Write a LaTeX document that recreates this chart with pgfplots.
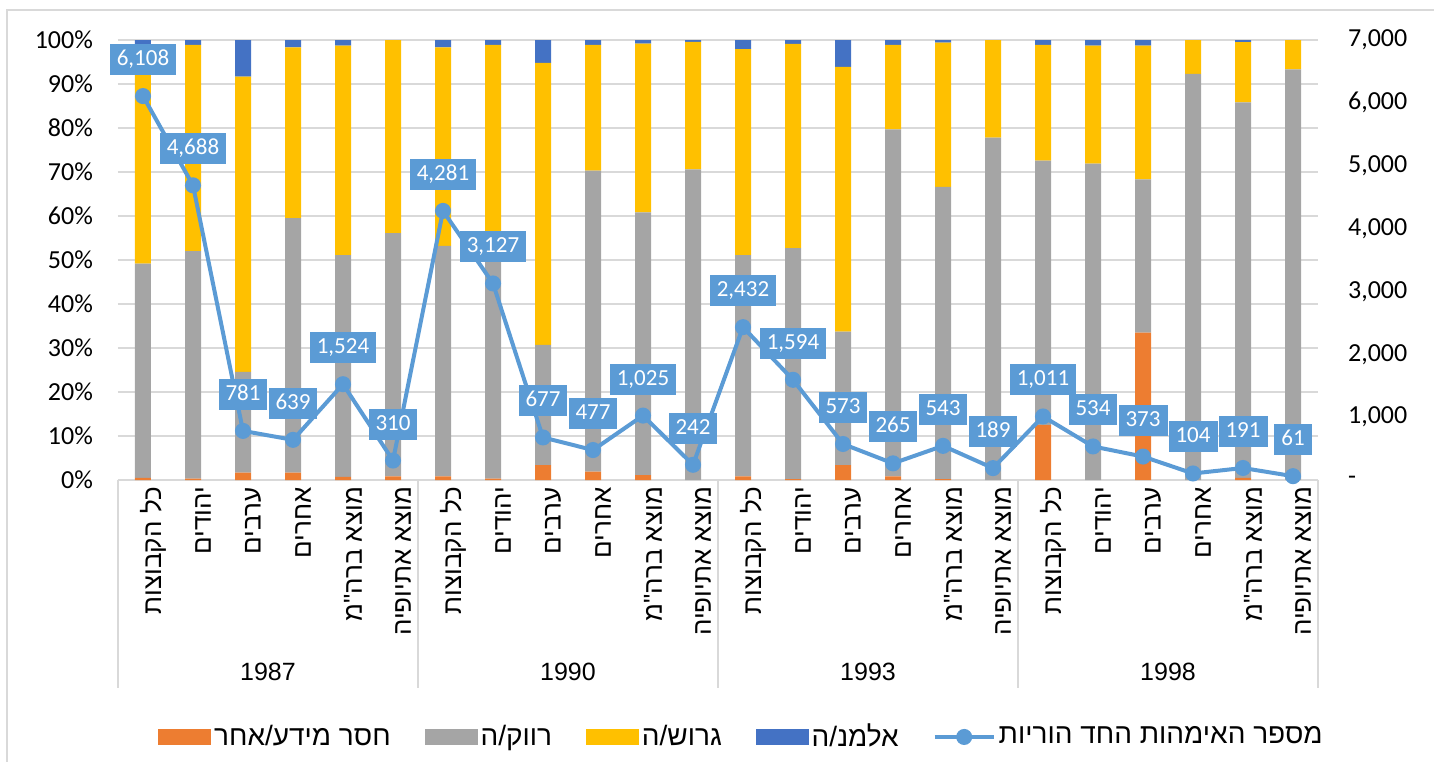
\documentclass[border=0pt]{standalone}
\usepackage{fontspec}
\setmainfont{Liberation Sans}
\newfontfamily\calibri{Carlito}
\newfontfamily\hebfont[Script=Hebrew]{Liberation Sans}
\usepackage{pgfplots}
\pgfplotsset{compat=1.18}
\TeXXeTstate=1
\newcommand\heb[1]{{\hebfont\beginR #1\endR}}
\definecolor{cOrange}{HTML}{ED7D31}
\definecolor{cGray}{HTML}{A5A5A5}
\definecolor{cYellow}{HTML}{FFC000}
\definecolor{cBlue}{HTML}{4472C4}
\definecolor{cLine}{HTML}{5B9BD5}
\definecolor{gridgray}{HTML}{D9D9D9}
\newcommand\La{\heb{כל הקבוצות}}
\newcommand\Lb{\heb{יהודים}}
\newcommand\Lc{\heb{ערבים}}
\newcommand\Ld{\heb{אחרים}}
\newcommand\Le{\heb{מוצא ברה"מ}}
\newcommand\Lf{\heb{מוצא אתיופיה}}

\pgfplotstableread{
x orange gray yellow blue
0  0.5 48.7 48.9 1.9
1  0.3 51.7 46.9 1.1
2  1.7 22.9 67.1 8.3
3  1.7 57.8 38.8 1.7
4  0.7 50.4 47.6 1.3
5  0.8 55.3 43.9 0.0
6  0.8 52.4 45.1 1.7
7  0.3 54.7 43.9 1.1
8  3.4 27.3 64.1 5.2
9  1.9 68.4 28.6 1.1
10 1.1 59.7 38.4 0.8
11 0.0 70.6 29.0 0.4
12 0.8 50.3 46.8 2.1
13 0.2 52.5 46.4 0.9
14 3.4 30.3 60.2 6.1
15 0.8 78.9 19.2 1.1
16 0.2 66.4 32.8 0.6
17 0.0 77.8 22.2 0.0
18 12.5 60.1 26.3 1.1
19 0.0 71.9 26.8 1.3
20 33.5 34.8 30.4 1.3
21 0.0 92.3 7.7 0.0
22 0.5 85.3 13.7 0.5
23 0.0 93.3 6.7 0.0
}\bars

\pgfplotstableread{
x n
0 6108
1 4688
2 781
3 639
4 1524
5 310
6 4281
7 3127
8 677
9 477
10 1025
11 242
12 2432
13 1594
14 573
15 265
16 543
17 189
18 1011
19 534
20 373
21 104
22 191
23 61
}\mothers

\begin{document}
\begin{tikzpicture}
\path[use as bounding box] (-59pt,-140.5pt) rectangle (658pt,240pt);
\draw[gridgray, line width=0.75pt] (-55.5pt,-160pt) -- (-55.5pt,235pt) -- (680pt,235pt);
\begin{axis}[
  at={(0,0)}, anchor=south west,
  scale only axis, width=600pt, height=220pt,
  xmin=-0.5, xmax=23.5, ymin=0, ymax=100,
  ybar stacked, bar width=8pt,
  axis x line*=bottom, axis y line*=left,
  x axis line style={draw=gridgray, line width=0.75pt},
  y axis line style={draw=none},
  major tick length=0pt,
  xtick=data,
  xticklabels={\La,\Lb,\Lc,\Ld,\Le,\Lf,\La,\Lb,\Lc,\Ld,\Le,\Lf,\La,\Lb,\Lc,\Ld,\Le,\Lf,\La,\Lb,\Lc,\Ld,\Le,\Lf},
  xticklabel style={rotate=90, anchor=east, font=\fontsize{13pt}{13pt}\hebfont, yshift=-5pt},
  ytick={0,10,...,100},
  yticklabels={0\%,10\%,20\%,30\%,40\%,50\%,60\%,70\%,80\%,90\%,100\%},
  yticklabel style={font=\fontsize{13pt}{13pt}\calibri, xshift=-9pt},
  ymajorgrids, major grid style={draw=gridgray, line width=0.75pt},
  clip=false,
]
\addplot[fill=cOrange, draw=none] table[x=x, y=orange] {\bars};
\addplot[fill=cGray, draw=none] table[x=x, y=gray] {\bars};
\addplot[fill=cYellow, draw=none] table[x=x, y=yellow] {\bars};
\addplot[fill=cBlue, draw=none] table[x=x, y=blue] {\bars};
\pgfplotsinvokeforeach{-0.5,5.5,11.5,17.5,23.5}{
  \draw[gridgray, line width=0.75pt] (axis cs:#1,0) -- ([yshift=-104pt]axis cs:#1,0);
}
\node[anchor=base, yshift=-100pt, font=\fontsize{12.5pt}{13pt}\selectfont] at (axis cs:2.5,0) {1987};
\node[anchor=base, yshift=-100pt, font=\fontsize{12.5pt}{13pt}\selectfont] at (axis cs:8.5,0) {1990};
\node[anchor=base, yshift=-100pt, font=\fontsize{12.5pt}{13pt}\selectfont] at (axis cs:14.5,0) {1993};
\node[anchor=base, yshift=-100pt, font=\fontsize{12.5pt}{13pt}\selectfont] at (axis cs:20.5,0) {1998};
\end{axis}
\begin{axis}[
  at={(0,0)}, anchor=south west,
  scale only axis, width=600pt, height=220pt,
  xmin=-0.5, xmax=23.5, ymin=0, ymax=7000,
  axis x line=none, axis y line*=right,
  y axis line style={draw=none},
  major tick length=0pt,
  ytick={0,1000,...,7000},
  yticklabels={-,{1,000},{2,000},{3,000},{4,000},{5,000},{6,000},{7,000}},
  yticklabel style={font=\fontsize{13pt}{13pt}\calibri, anchor=west, xshift=11.5pt},
  /pgf/number format/.cd, 1000 sep={,}, assume math mode=true, /pgfplots/.cd,
  clip=false,
  legend columns=5,
  legend cell align=left,
  legend style={at={(0.0333,-0.584)}, anchor=west, draw=none, fill=none, inner sep=0pt,
    nodes={inner sep=1.5pt},
    font=\fontsize{14pt}{15pt}\hebfont,
    /tikz/every even column/.append style={column sep=15.5pt},
    /tikz/every odd column/.append style={column sep=0pt}},
]
\addlegendimage{legend image code/.code={\fill[cOrange] (0pt,-3.75pt) rectangle (26pt,3.75pt);}}
\addlegendentry{\heb{חסר מידע/אחר}}
\addlegendimage{legend image code/.code={\fill[cGray] (0pt,-3.75pt) rectangle (26pt,3.75pt);}}
\addlegendentry{\heb{רווק/ה}}
\addlegendimage{legend image code/.code={\fill[cYellow] (0pt,-3.75pt) rectangle (26pt,3.75pt);}}
\addlegendentry{\heb{גרוש/ה}}
\addlegendimage{legend image code/.code={\fill[cBlue] (0pt,-3.75pt) rectangle (26pt,3.75pt);}}
\addlegendentry{\heb{אלמנ/ה}}
\addplot[color=cLine, line width=2pt, mark=*, mark size=3pt, mark options={fill=cLine, draw=cLine},
  nodes near coords,
  every node near coord/.append style={anchor=south, yshift=9.5pt, fill=cLine, text=white,
    font=\fontsize{11.5pt}{12pt}\calibri, inner xsep=3.5pt, inner ysep=3.25pt,
    text height=7.5pt, text depth=1.5pt},
  legend image code/.code={\draw[cLine, line width=2pt] (0pt,0pt) -- (29.5pt,0pt); \fill[cLine] (14.75pt,0pt) circle (3pt);}
] table[x=x, y=n] {\mothers};
\addlegendentry{\heb{מספר האימהות החד הוריות}}
\end{axis}
\end{tikzpicture}
\end{document}
